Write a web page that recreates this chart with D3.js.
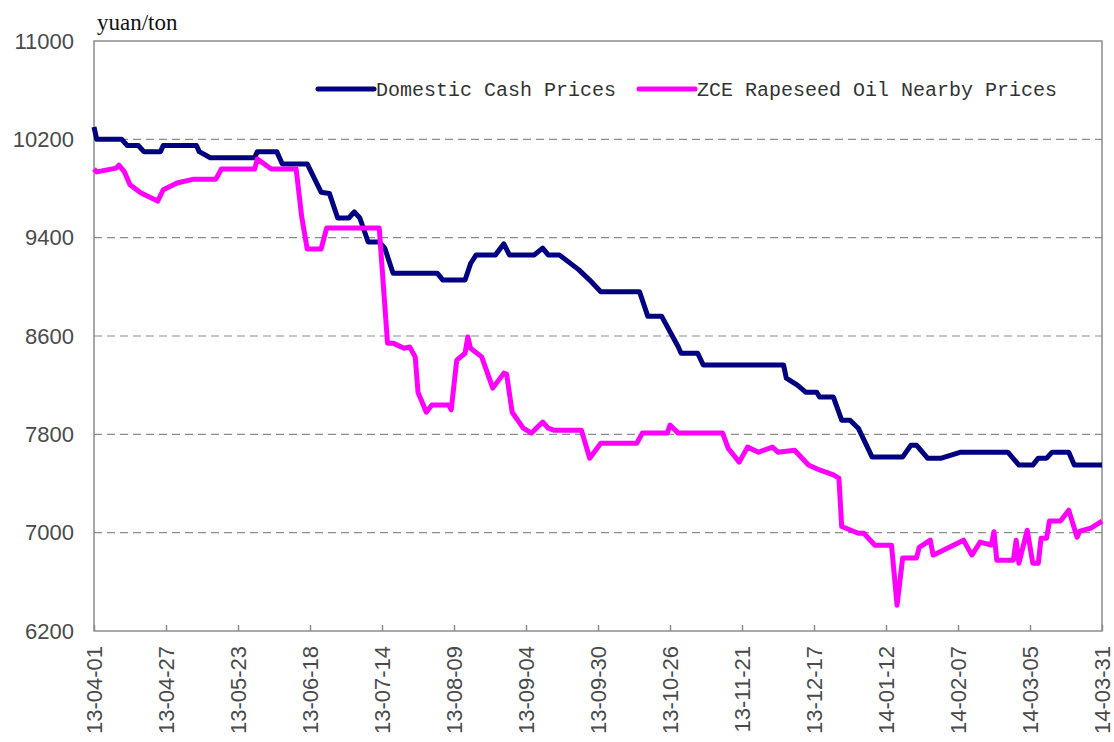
<!DOCTYPE html>
<html>
<head>
<meta charset="utf-8">
<script src="https://cdn.jsdelivr.net/npm/d3@7"></script>
<style>
  body { margin: 0; background: #fff; }
</style>
</head>
<body>
<div id="container"></div>
<script>
var WIDTH = 1114;
var HEIGHT = 742;
var PLOT = { LEFT: 94, RIGHT: 1102, TOP: 41, BOTTOM: 631 };

// x axis labels, every 26 days
const tickLabels = ['13-04-01', '13-04-27', '13-05-23', '13-06-18', '13-07-14', '13-08-09',
  '13-09-04', '13-09-30', '13-10-26', '13-11-21', '13-12-17', '14-01-12', '14-02-07',
  '14-03-05', '14-03-31'];

const yTicks = [6200, 7000, 7800, 8600, 9400, 10200, 11000];

const seriesNames = ['Domestic Cash Prices', 'ZCE Rapeseed Oil Nearby Prices'];

const domesticDates = ['2013-04-01', '2013-04-02', '2013-04-11', '2013-04-13', '2013-04-17',
  '2013-04-19', '2013-04-25', '2013-04-26', '2013-05-08', '2013-05-09', '2013-05-13',
  '2013-05-29', '2013-05-30', '2013-06-06', '2013-06-08', '2013-06-17', '2013-06-22',
  '2013-06-25', '2013-06-28', '2013-07-02', '2013-07-04', '2013-07-06', '2013-07-09',
  '2013-07-13', '2013-07-15', '2013-07-18', '2013-08-03', '2013-08-05', '2013-08-13',
  '2013-08-15', '2013-08-17', '2013-08-24', '2013-08-27', '2013-08-29', '2013-09-07',
  '2013-09-10', '2013-09-12', '2013-09-16', '2013-09-23', '2013-09-27', '2013-10-01',
  '2013-10-15', '2013-10-18', '2013-10-23', '2013-10-29', '2013-10-30', '2013-11-05',
  '2013-11-07', '2013-12-06', '2013-12-07', '2013-12-11', '2013-12-14', '2013-12-18',
  '2013-12-19', '2013-12-24', '2013-12-27', '2013-12-30', '2014-01-02', '2014-01-07',
  '2014-01-18', '2014-01-21', '2014-01-23', '2014-01-27', '2014-02-01', '2014-02-08',
  '2014-02-25', '2014-03-01', '2014-03-06', '2014-03-08', '2014-03-11', '2014-03-13',
  '2014-03-19', '2014-03-21', '2014-03-31'];
const domesticValues = [10300, 10200, 10200, 10150, 10150,
  10100, 10100, 10150, 10150, 10100, 10050,
  10050, 10100, 10100, 10000, 10000, 9770,
  9760, 9560, 9560, 9610, 9560, 9365,
  9365, 9315, 9110, 9110, 9055, 9055,
  9190, 9260, 9260, 9350, 9260, 9260,
  9315, 9260, 9260, 9140, 9055, 8960,
  8960, 8760, 8760, 8510, 8460, 8460,
  8365, 8365, 8257, 8200, 8143, 8143,
  8103, 8103, 7915, 7915, 7850, 7615,
  7615, 7712, 7712, 7606, 7606, 7655,
  7655, 7550, 7550, 7606, 7606, 7655,
  7655, 7550, 7550];

const zceDates = ['2013-04-01', '2013-04-02', '2013-04-09', '2013-04-10', '2013-04-12',
  '2013-04-14', '2013-04-18', '2013-04-21', '2013-04-24', '2013-04-26', '2013-05-01',
  '2013-05-07', '2013-05-15', '2013-05-17', '2013-05-29', '2013-05-30', '2013-06-04',
  '2013-06-13', '2013-06-15', '2013-06-17', '2013-06-22', '2013-06-24', '2013-07-13',
  '2013-07-16', '2013-07-18', '2013-07-22', '2013-07-24', '2013-07-26', '2013-07-27',
  '2013-07-30', '2013-08-01', '2013-08-07', '2013-08-08', '2013-08-10', '2013-08-13',
  '2013-08-14', '2013-08-15', '2013-08-19', '2013-08-23', '2013-08-27', '2013-08-28',
  '2013-08-30', '2013-09-03', '2013-09-06', '2013-09-10', '2013-09-12', '2013-09-14',
  '2013-09-24', '2013-09-27', '2013-10-01', '2013-10-14', '2013-10-16', '2013-10-25',
  '2013-10-26', '2013-10-29', '2013-11-14', '2013-11-16', '2013-11-20', '2013-11-23',
  '2013-11-27', '2013-12-02', '2013-12-04', '2013-12-10', '2013-12-15', '2013-12-19',
  '2013-12-24', '2013-12-26', '2013-12-27', '2014-01-02', '2014-01-04', '2014-01-08',
  '2014-01-14', '2014-01-16', '2014-01-18', '2014-01-23', '2014-01-24', '2014-01-28',
  '2014-01-29', '2014-02-09', '2014-02-12', '2014-02-15', '2014-02-19', '2014-02-20',
  '2014-02-21', '2014-02-27', '2014-02-28', '2014-03-01', '2014-03-04', '2014-03-06',
  '2014-03-08', '2014-03-09', '2014-03-11', '2014-03-12', '2014-03-16', '2014-03-19',
  '2014-03-22', '2014-03-23', '2014-03-27', '2014-03-31'];
const zceValues = [9958, 9935, 9966, 9990, 9935,
  9830, 9763, 9730, 9698, 9790, 9845,
  9876, 9876, 9958, 9958, 10040, 9958,
  9958, 9570, 9307, 9307, 9478, 9478,
  8542, 8542, 8500, 8510, 8430, 8143,
  7980, 8038, 8038, 8000, 8404, 8460,
  8592, 8500, 8430, 8176, 8298, 8290,
  7980, 7850, 7810, 7900, 7850, 7834,
  7834, 7606, 7728, 7728, 7810, 7810,
  7875, 7810, 7810, 7687, 7574, 7696,
  7655, 7696, 7655, 7671, 7550, 7510,
  7470, 7444, 7050, 6995, 6995, 6898,
  6898, 6410, 6793, 6793, 6880, 6939,
  6817, 6939, 6817, 6923, 6900, 7008,
  6776, 6776, 6939, 6752, 7020, 6752,
  6752, 6955, 6955, 7094, 7094, 7183,
  6963, 7012, 7037, 7094];

const parseDate = d3.utcParse('%Y-%m-%d');
const parseTick = d3.utcParse('%y-%m-%d');
const tickDates = tickLabels.map(parseTick);

const svg = d3.select('#container')
  .append('svg')
    .attr('width', WIDTH)
    .attr('height', HEIGHT)
    .style('font-family', 'Arial, "Liberation Sans", sans-serif');

const x = d3.scaleUtc()
  .domain([tickDates[0], tickDates[tickDates.length - 1]])
  .range([PLOT.LEFT, PLOT.RIGHT]);

const y = d3.scaleLinear()
  .domain([6200, 11000])
  .range([PLOT.BOTTOM, PLOT.TOP]);

// dashed grid
svg.append('g')
  .selectAll('line')
  .data(yTicks.filter(v => v > 6200 && v < 11000))
  .enter()
  .append('line')
    .attr('x1', PLOT.LEFT)
    .attr('x2', PLOT.RIGHT)
    .attr('y1', d => y(d))
    .attr('y2', d => y(d))
    .attr('stroke', '#8c8c8c')
    .attr('stroke-width', 1.2)
    .attr('stroke-dasharray', '8,5');

// plot frame
svg.append('rect')
  .attr('x', PLOT.LEFT)
  .attr('y', PLOT.TOP)
  .attr('width', PLOT.RIGHT - PLOT.LEFT)
  .attr('height', PLOT.BOTTOM - PLOT.TOP)
  .attr('fill', 'none')
  .attr('stroke', '#8c8c8c')
  .attr('stroke-width', 1.5);

// y axis
const yAxis = svg.append('g')
  .attr('transform', `translate(${PLOT.LEFT}, 0)`)
  .call(d3.axisLeft(y).tickValues(yTicks).tickSize(0).tickPadding(20).tickFormat(d3.format('d')));
yAxis.select('.domain').remove();
yAxis.selectAll('text')
  .style('font-size', '22px')
  .attr('fill', '#4a4a4a');

// x axis
const xAxis = svg.append('g')
  .attr('transform', `translate(0, ${PLOT.BOTTOM})`)
  .call(d3.axisBottom(x).tickValues(tickDates).tickSize(-6).tickFormat(d3.utcFormat('%y-%m-%d')));
xAxis.select('.domain').remove();
xAxis.selectAll('line').attr('stroke', '#8c8c8c').attr('stroke-width', 1.5);
xAxis.selectAll('text')
  .attr('transform', 'rotate(-90)')
  .attr('x', -15)
  .attr('y', 0)
  .attr('dy', '0.36em')
  .style('text-anchor', 'end')
  .style('font-size', '22px')
  .attr('fill', '#4a4a4a');

// unit label
svg.append('text')
  .attr('x', 97)
  .attr('y', 30)
  .text('yuan/ton')
  .style('font-family', '"Times New Roman", "Liberation Serif", serif')
  .style('font-size', '23px')
  .attr('fill', '#111');

const line = d3.line()
  .x(d => x(d.date))
  .y(d => y(d.value));

const domestic = domesticDates.map((d, i) => ({ date: parseDate(d), value: domesticValues[i] }));
const zce = zceDates.map((d, i) => ({ date: parseDate(d), value: zceValues[i] }));

const colors = ['#000080', '#ff00ff'];

svg.append('path')
  .datum(domestic)
  .attr('d', line)
  .attr('fill', 'none')
  .attr('stroke', colors[0])
  .attr('stroke-width', 5)
  .attr('stroke-linejoin', 'round');

svg.append('path')
  .datum(zce)
  .attr('d', line)
  .attr('fill', 'none')
  .attr('stroke', colors[1])
  .attr('stroke-width', 5)
  .attr('stroke-linejoin', 'round');

// legend
const legendX = [318, 639];
const legend = svg.append('g')
  .selectAll('.legend-item')
  .data(seriesNames)
  .enter()
  .append('g')
    .attr('class', 'legend-item')
    .attr('transform', (d, i) => `translate(${legendX[i]}, 89)`);

legend.append('line')
  .attr('x1', 0)
  .attr('x2', 56)
  .attr('stroke', (d, i) => colors[i])
  .attr('stroke-width', 5)
  .attr('stroke-linecap', 'round');

legend.append('text')
  .attr('x', 58)
  .attr('y', 7)
  .text(d => d)
  .style('font-family', '"Liberation Mono", "DejaVu Sans Mono", monospace')
  .style('font-size', '20px')
  .attr('fill', '#333');
</script>
</body>
</html>
